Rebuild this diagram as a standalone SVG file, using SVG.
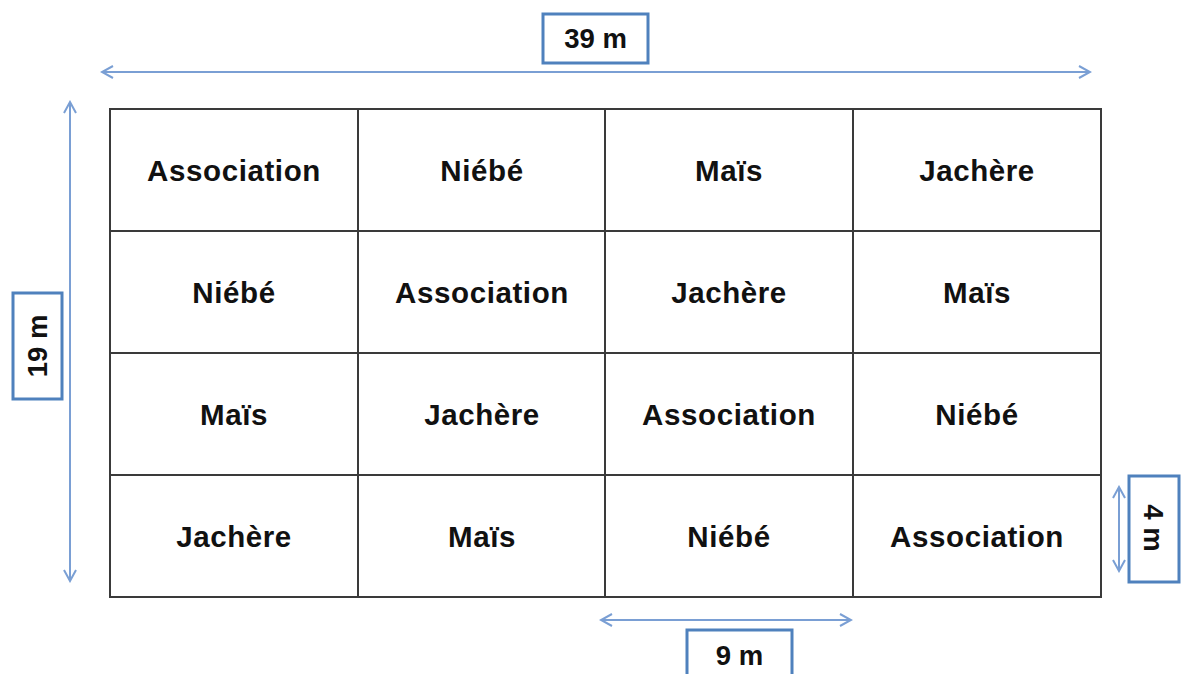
<svg xmlns="http://www.w3.org/2000/svg" width="1181" height="674" viewBox="0 0 1181 674">
<style>
.cell{fill:#fff;stroke:#3a3a3a;stroke-width:2}
.lbl{font-family:"Liberation Sans",Arial,sans-serif;font-weight:bold;font-size:29.5px;letter-spacing:0.6px;fill:#111;text-anchor:middle}
.dim{stroke:#7a9fd4;stroke-width:2;fill:none}
.box{fill:#fff;stroke:#4f81bd;stroke-width:3}
.dl{font-family:"Liberation Sans",Arial,sans-serif;font-weight:bold;font-size:27.5px;fill:#111;text-anchor:middle}
</style>
<defs>
<marker id="ah" markerWidth="14" markerHeight="14" refX="12" refY="7" orient="auto-start-reverse" markerUnits="userSpaceOnUse">
<path d="M1,1 L12,7 L1,13" fill="none" stroke="#7a9fd4" stroke-width="2"/>
</marker>
</defs>
<g id="grid">
<rect class="cell" x="110" y="109" width="991" height="488"/>
<path d="M358,109V597M605,109V597M853,109V597M110,231H1101M110,353H1101M110,475H1101" stroke="#3a3a3a" stroke-width="2" fill="none"/>
</g>
<g id="r1">
<text class="lbl" x="234" y="181">Association</text>
<text class="lbl" x="482" y="181">Niébé</text>
<text class="lbl" x="729" y="181">Maïs</text>
<text class="lbl" x="977" y="181">Jachère</text>
</g>
<g id="r2">
<text class="lbl" x="234" y="303">Niébé</text>
<text class="lbl" x="482" y="303">Association</text>
<text class="lbl" x="729" y="303">Jachère</text>
<text class="lbl" x="977" y="303">Maïs</text>
</g>
<g id="r3">
<text class="lbl" x="234" y="425">Maïs</text>
<text class="lbl" x="482" y="425">Jachère</text>
<text class="lbl" x="729" y="425">Association</text>
<text class="lbl" x="977" y="425">Niébé</text>
</g>
<g id="r4">
<text class="lbl" x="234" y="547">Jachère</text>
<text class="lbl" x="482" y="547">Maïs</text>
<text class="lbl" x="729" y="547">Niébé</text>
<text class="lbl" x="977" y="547">Association</text>
</g>
<g id="connectors">
<line class="dim" x1="102" y1="72" x2="1090" y2="72" marker-start="url(#ah)" marker-end="url(#ah)"/>
<line class="dim" x1="70" y1="102" x2="70" y2="581" marker-start="url(#ah)" marker-end="url(#ah)"/>
<line class="dim" x1="1119" y1="487" x2="1119" y2="571" marker-start="url(#ah)" marker-end="url(#ah)"/>
<line class="dim" x1="601" y1="620" x2="851" y2="620" marker-start="url(#ah)" marker-end="url(#ah)"/>
</g>
<g id="dim39">
<rect class="box" x="543" y="14" width="105" height="49"/>
<text class="dl" x="595.5" y="48">39 m</text>
</g>
<g id="dim19">
<rect class="box" x="13" y="293" width="49" height="106"/>
<text class="dl" transform="translate(47,346) rotate(-90)">19 m</text>
</g>
<g id="dim4">
<rect class="box" x="1129" y="476" width="50" height="106"/>
<text class="dl" transform="translate(1144,528) rotate(90)">4 m</text>
</g>
<g id="dim9">
<rect class="box" x="687" y="630" width="105" height="50"/>
<text class="dl" x="739.5" y="665">9 m</text>
</g>
</svg>
